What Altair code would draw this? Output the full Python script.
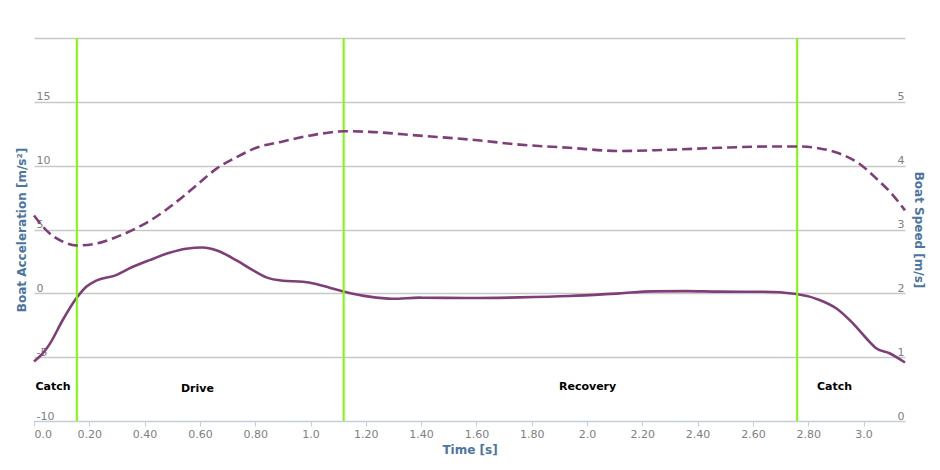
import altair as alt
import pandas as pd

# Boat acceleration (left axis) [m/s^2]
acc_t = [0.0, 0.03, 0.056, 0.104, 0.153, 0.189, 0.225, 0.297, 0.345, 0.418, 0.49, 0.55, 0.61,
         0.659, 0.731, 0.791, 0.84, 0.9, 0.972, 1.02, 1.069, 1.123, 1.213, 1.298, 1.394,
         1.575, 1.756, 1.937, 2.117, 2.238, 2.359, 2.479, 2.636, 2.757, 2.841, 2.901,
         2.961, 3.01, 3.046, 3.094, 3.15]
acc_v = [-5.34, -4.75, -4.0, -2.09, -0.39, 0.52, 0.99, 1.43, 1.95, 2.6, 3.17, 3.49, 3.59,
         3.38, 2.6, 1.82, 1.25, 0.99, 0.91, 0.73, 0.44, 0.13, -0.26, -0.42, -0.34,
         -0.37, -0.32, -0.21, 0.0, 0.15, 0.17, 0.13, 0.12, -0.05, -0.52, -1.17,
         -2.34, -3.52, -4.3, -4.69, -5.42]

# Boat speed (right axis) [m/s]
spd_t = [0.0, 0.056, 0.104, 0.153, 0.225, 0.297, 0.37, 0.442, 0.514, 0.587, 0.659,
         0.731, 0.804, 0.9, 0.996, 1.069, 1.123, 1.213, 1.394, 1.575, 1.756, 1.937,
         2.117, 2.298, 2.479, 2.66, 2.768, 2.841, 2.913, 2.985, 3.046, 3.106, 3.15]
spd_v = [3.22, 2.94, 2.81, 2.75, 2.78, 2.88, 3.02, 3.2, 3.43, 3.69, 3.95,
         4.13, 4.28, 4.38, 4.47, 4.52, 4.54, 4.53, 4.47, 4.41, 4.33, 4.28,
         4.23, 4.25, 4.28, 4.30, 4.30, 4.27, 4.19, 4.03, 3.80, 3.54, 3.30]

# Phase boundaries [s]
phase_t = [0.155, 1.12, 2.76]

# Phase labels
label_text = ["Catch", "Drive", "Recovery", "Catch"]
label_t = [0.069, 0.591, 2.002, 2.895]
label_v = [-7.32, -7.48, -7.32, -7.32]

x_ticks = [round(i * 0.2, 1) for i in range(16)]

PURPLE = "#7E3F78"
GREEN = "#7CFC00"
TITLE_COLOR = "#4D759E"
FONT = "DejaVu Sans"

acc_df = pd.DataFrame({"t": acc_t, "v": acc_v})
spd_df = pd.DataFrame({"t": spd_t, "v": spd_v})
phase_df = pd.DataFrame({"t": phase_t})
label_df = pd.DataFrame({"t": label_t, "v": label_v, "text": label_text})

x_scale = alt.Scale(domain=[0, 3.15], nice=False, zero=False)
x_axis = alt.Axis(
    title="Time [s]", values=x_ticks, grid=False,
    labelExpr="abs(round(datum.value*100) % 100) == 0 ? format(datum.value, '.1f') : format(datum.value, '.2f')",
    labelFlush=True, labelColor="#808080", labelFontSize=11, labelFont=FONT,
    domainColor="#C0D0E0", tickColor="#C0D0E0", tickSize=5, labelPadding=2,
    titleColor=TITLE_COLOR, titleFontSize=12, titleFont=FONT, titleFontWeight="bold",
    titlePadding=5,
)
x_enc = alt.X("t:Q", scale=x_scale, axis=x_axis)

acc_scale = alt.Scale(domain=[-10, 20], nice=False, zero=False)
acc_axis = alt.Axis(
    title="Boat Acceleration [m/s²]", values=[-10, -5, 0, 5, 10, 15, 20],
    labelExpr="datum.value == 20 ? '' : '' + datum.value",
    grid=True, gridColor="#C8C8C8", gridWidth=1.3, domain=False, ticks=False, tickSize=0,
    labelAlign="left", labelPadding=-2, labelBaseline="alphabetic", labelOffset=-2,
    labelColor="#808080", labelFontSize=11, labelFont=FONT,
    titleColor=TITLE_COLOR, titleFontSize=12, titleFont=FONT, titleFontWeight="bold",
    titleAngle=-90, titleX=-13, titleY=191.5, titleBaseline="middle", titleAlign="center",
)

spd_scale = alt.Scale(domain=[0, 6], nice=False, zero=False)
spd_axis = alt.Axis(
    title="Boat Speed [m/s]", values=[0, 1, 2, 3, 4, 5, 6], orient="right",
    labelExpr="datum.value == 6 ? '' : '' + datum.value",
    grid=False, domain=False, ticks=False, tickSize=0,
    labelAlign="right", labelPadding=-1, labelBaseline="alphabetic", labelOffset=-2,
    labelColor="#808080", labelFontSize=11, labelFont=FONT,
    titleColor=TITLE_COLOR, titleFontSize=12, titleFont=FONT, titleFontWeight="bold",
    titleAngle=90, titleX=13.5, titleY=191.5, titleBaseline="middle", titleAlign="center",
)

acc_line = alt.Chart(acc_df).mark_line(
    color=PURPLE, strokeWidth=2.6, interpolate="monotone"
).encode(x=x_enc, y=alt.Y("v:Q", scale=acc_scale, axis=acc_axis))

rules = alt.Chart(phase_df).mark_rule(color=GREEN, strokeWidth=2).encode(
    x=alt.X("t:Q", scale=x_scale)
)

labels = alt.Chart(label_df).mark_text(
    font=FONT, fontSize=11, fontWeight="bold", color="#000000"
).encode(
    x=alt.X("t:Q", scale=x_scale),
    y=alt.Y("v:Q", scale=acc_scale),
    text="text:N",
)

left = alt.layer(acc_line, rules, labels)

spd_line = alt.Chart(spd_df).mark_line(
    color=PURPLE, strokeWidth=2.6, strokeDash=[10, 5], interpolate="monotone"
).encode(x=x_enc, y=alt.Y("v:Q", scale=spd_scale, axis=spd_axis))

chart = alt.layer(left, spd_line).resolve_scale(y="independent").properties(
    width=871, height=383,
    autosize=alt.AutoSizeParams(type="none"),
    padding={"left": 34, "top": 38, "right": 35, "bottom": 49},
    background="white",
).configure_view(stroke=None)

chart.save("out.html", embed_options={"renderer": "svg", "actions": False})
